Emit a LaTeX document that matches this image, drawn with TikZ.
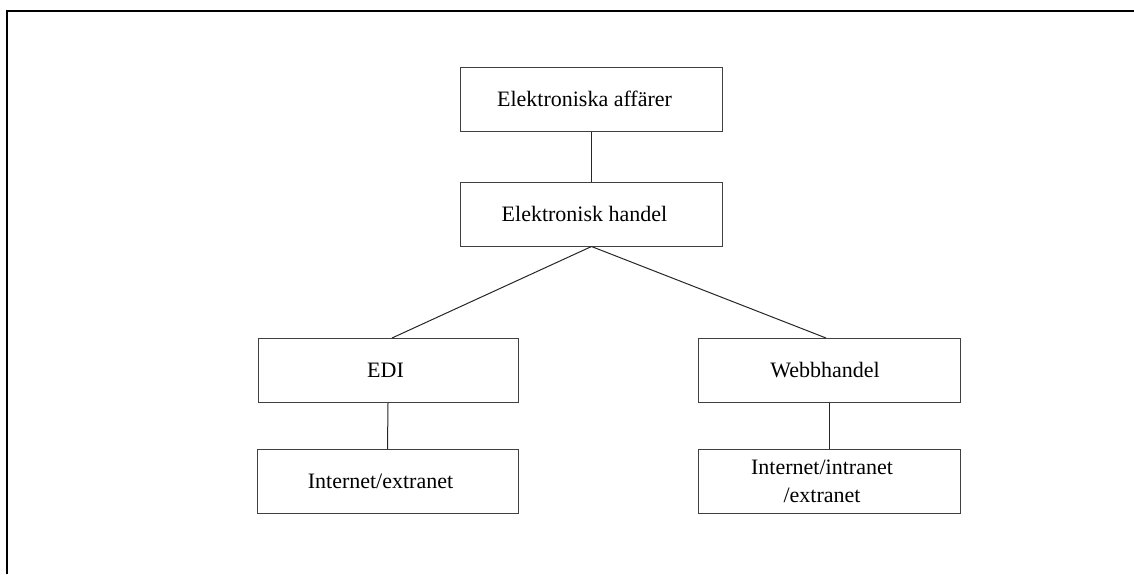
\documentclass[tikz,border=0pt]{standalone}
\usepackage{fontspec}
\setmainfont{Liberation Serif}
\newcommand{\lsh}{\hspace*{14pt}}
\begin{document}
\begin{tikzpicture}[x=1pt,y=-1pt,
  box/.style={draw=black!75,line width=1pt,minimum width=262pt,minimum height=64pt,inner sep=0pt,align=center,font=\fontsize{22}{28}\selectfont},
  conn/.style={draw=black!85,line width=1pt}]
\useasboundingbox (0,0) rectangle (1134,574);
\draw[line width=2pt] (7,574) -- (7,11) -- (1134,11);
\node[box] (ea) at (591.5,99) {Elektroniska affärer\lsh};
\node[box] (eh) at (591.5,214) {Elektronisk handel\lsh};
\node[box,minimum width=260pt] (edi) at (388,370.5) {EDI\hspace*{5pt}};
\node[box] (web) at (829,370.5) {Webbhandel\hspace*{8pt}};
\node[box,minimum width=261pt] (ie) at (387.5,481.5) {Internet/extranet\lsh};
\node[box] (iie) at (829,481.5) {Internet/intranet\lsh\\/extranet\lsh};
\draw[conn] (ea.south) -- (eh.south |- ea.south) -- (eh.north);
\draw[conn] (eh.south) -- ([xshift=4pt]edi.north);
\draw[conn] (eh.south) -- ([xshift=-3pt]web.north);
\draw[conn] (edi.south) -- (ie.north);
\draw[conn] (web.south) -- (iie.north);
\end{tikzpicture}
\end{document}
